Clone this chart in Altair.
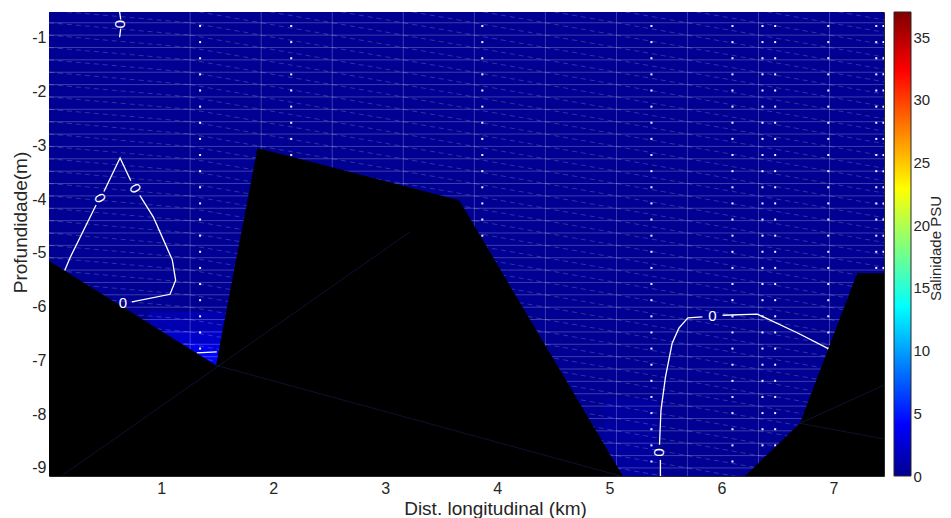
import altair as alt
import pandas as pd

# ---------------- data ----------------
X_DOMAIN = [0.0, 7.45]          # km
Z_DOMAIN = [-9.15, -0.52]       # m
SAL_DOMAIN = [0, 37]            # PSU (colorbar)

# jet colour map stops (salinity value -> colour)
jet_sal = [0, 4.11, 13.5, 22.9, 32.3, 37]
jet_colors = ["#00008F", "#0000FF", "#00FFFF", "#FFFF00", "#FF0000", "#800000"]

# salinity field (background and brighter patches)
patch_x1 = [0.0, 4.95, 0.90, 1.05, 1.20, 1.30]
patch_x2 = [7.45, 5.42, 1.60, 1.60, 1.60, 1.60]
patch_z1 = [-9.15, -9.15, -7.20, -7.20, -7.20, -7.20]
patch_z2 = [-0.52, -7.70, -6.10, -6.45, -6.70, -6.85]
patch_sal = [0.1, 0.6, 1.2, 2.2, 3.2, 4.3]

# model mesh lines
mesh_x = [1.259, 1.893, 2.527, 3.161, 3.795, 4.429, 5.063, 5.696, 6.330, 6.964]
mesh_x_edges = [0.0, 1.259, 1.893, 2.527, 3.161, 3.795, 4.429, 5.063, 5.696, 6.330, 6.964, 7.598]
mesh_z = [-0.49, -0.72, -0.95, -1.18, -1.41, -1.64, -1.87, -2.10, -2.33, -2.56, -2.79,
          -3.02, -3.25, -3.48, -3.71, -3.94, -4.17, -4.40, -4.63, -4.86, -5.09, -5.32,
          -5.55, -5.78, -6.01, -6.24, -6.47, -6.70, -6.93, -7.16, -7.39, -7.62, -7.85,
          -8.08, -8.31, -8.54, -8.77, -9.00, -9.23]

# sample points
sample_x = [1.348, 2.161, 3.866, 5.375, 6.098, 6.366, 6.479, 6.953, 7.381, 7.445]
sample_z = [-0.78, -1.08, -1.38, -1.68, -1.98, -2.28, -2.58, -2.88, -3.18, -3.48,
            -3.78, -4.08, -4.38, -4.68, -4.98, -5.28, -5.58, -5.88, -6.18, -6.48,
            -6.78, -7.08, -7.38, -7.68, -7.98, -8.28, -8.58, -8.88]

# bathymetry (top boundary of the black bottom)
bathy_id = ["a", "a", "a", "a", "a", "b", "b", "b", "b"]
bathy_x = [0.0, 1.49, 1.86, 3.66, 5.12, 6.21, 6.70, 7.21, 7.45]
bathy_z = [-5.15, -7.09, -3.05, -4.02, -9.15, -9.15, -8.17, -5.38, -5.38]

# faint mesh edges visible inside the bottom
faint_x1 = [0.125, 1.49, 6.70, 6.70]
faint_z1 = [-9.13, -7.09, -8.17, -8.17]
faint_x2 = [3.22, 5.10, 7.45, 7.45]
faint_z2 = [-4.61, -9.15, -7.46, -8.46]

# 0 PSU contour (segments broken at the labels)
cont_seg = [1, 1, 2, 2, 3, 3, 3, 4, 4, 4, 5, 5, 5, 5, 5, 5, 5, 6, 6, 7, 7,
            8, 8, 8, 8, 8, 8, 8, 9, 9, 9, 9]
cont_x = [0.630, 0.640, 0.640, 0.630,
          0.490, 0.634, 0.730,
          0.420, 0.190, 0.140,
          0.810, 0.930, 1.030, 1.100, 1.130, 1.080, 0.740,
          1.318, 1.497,
          5.455, 5.455,
          5.447, 5.460, 5.500, 5.560, 5.620, 5.700, 5.830,
          6.010, 6.320, 6.680, 6.970]
cont_z = [-0.52, -0.66, -0.83, -0.99,
          -3.86, -3.235, -3.66,
          -4.11, -5.08, -5.33,
          -3.93, -4.33, -4.80, -5.13, -5.51, -5.77, -5.91,
          -6.86, -6.84,
          -9.15, -8.85,
          -8.57, -7.93, -7.31, -6.68, -6.40, -6.21, -6.19,
          -6.16, -6.14, -6.49, -6.80]

lab_x = [0.634, 0.455, 0.768, 0.660, 5.440, 5.920]
lab_z = [-0.745, -3.98, -3.80, -5.93, -8.71, -6.17]
lab_ang = [90, 60, 60, 0, 90, 0]
lab_txt = ["0", "0", "0", "0", "0", "0"]

x_ticks = [1, 2, 3, 4, 5, 6, 7]
z_ticks = [-1, -2, -3, -4, -5, -6, -7, -8, -9]
sal_ticks = [0, 5, 10, 15, 20, 25, 30, 35]

# ---------------- tables ----------------
patch_df = pd.DataFrame({"x1": patch_x1, "x2": patch_x2, "z1": patch_z1,
                         "z2": patch_z2, "sal": patch_sal})
hline_df = pd.DataFrame({"z": mesh_z})
vline_df = pd.DataFrame({"x": mesh_x})
diag_rows = []
for i in range(len(mesh_x_edges) - 1):
    for k in range(len(mesh_z) - 1):
        diag_rows.append({"xa": mesh_x_edges[i], "za": mesh_z[k],
                          "xb": mesh_x_edges[i + 1], "zb": mesh_z[k + 1]})
diag_df = pd.DataFrame(diag_rows)
dots_df = pd.DataFrame([{"x": sx, "z": sz} for sx in sample_x for sz in sample_z])
bathy_df = pd.DataFrame({"poly": bathy_id, "x": bathy_x, "z": bathy_z,
                         "base": [Z_DOMAIN[0]] * len(bathy_x)})
faint_df = pd.DataFrame({"xa": faint_x1, "za": faint_z1, "xb": faint_x2, "zb": faint_z2})
cont_df = pd.DataFrame({"seg": cont_seg, "x": cont_x, "z": cont_z,
                        "i": list(range(len(cont_x)))})
lab_df = pd.DataFrame({"x": lab_x, "z": lab_z, "ang": lab_ang, "t": lab_txt})
cbar_df = pd.DataFrame({"lo": [SAL_DOMAIN[0]], "hi": [SAL_DOMAIN[1]]})

# ---------------- styling ----------------
FONT = "Liberation Sans"
TXT = "#262626"
XS = alt.Scale(domain=X_DOMAIN, nice=False, zero=False)
YS = alt.Scale(domain=Z_DOMAIN, nice=False, zero=False)
CS = alt.Scale(domain=jet_sal, range=jet_colors, interpolate="rgb")

x_axis = alt.Axis(values=x_ticks, title="Dist. longitudinal (km)", grid=False,
                  domain=False, ticks=False, tickSize=0, labelPadding=4,
                  labelFontSize=16, titleFontSize=19, titleFontWeight="normal",
                  labelFont=FONT, titleFont=FONT, labelColor=TXT, titleColor=TXT,
                  titleX=446, titleY=38, titleBaseline="alphabetic", titleAlign="center")
y_axis = alt.Axis(values=z_ticks, title="Profundidade(m)", grid=False,
                  domain=False, ticks=False, tickSize=0, labelPadding=3,
                  labelExpr="'-' + format(abs(datum.value), 'd')",
                  labelFontSize=16, titleFontSize=19, titleFontWeight="normal",
                  labelFont=FONT, titleFont=FONT, labelColor=TXT, titleColor=TXT,
                  titleX=-23, titleY=210, titleAngle=270, titleBaseline="alphabetic",
                  titleAlign="center")


def X(f):
    return alt.X(f, scale=XS, axis=x_axis)


def Y(f):
    return alt.Y(f, scale=YS, axis=y_axis)


bg = alt.Chart(patch_df).mark_rect().encode(
    x=X("x1:Q"), x2="x2:Q", y=Y("z1:Q"), y2="z2:Q",
    color=alt.Color("sal:Q", scale=CS, legend=None),
)
hlines = alt.Chart(hline_df).mark_rule(color="white", opacity=0.24, strokeWidth=1, clip=True).encode(
    y=Y("z:Q"))
vlines = alt.Chart(vline_df).mark_rule(color="white", opacity=0.24, strokeWidth=1, clip=True).encode(
    x=X("x:Q"))
diag = alt.Chart(diag_df).mark_rule(color="white", opacity=0.22, strokeWidth=0.9,
                                    strokeDash=[5, 4], clip=True).encode(
    x=X("xa:Q"), x2="xb:Q", y=Y("za:Q"), y2="zb:Q")
dots = alt.Chart(dots_df).mark_square(color="white", size=4, opacity=0.95, clip=True).encode(
    x=X("x:Q"), y=Y("z:Q"))
cont = alt.Chart(cont_df).mark_line(color="white", strokeWidth=1.3, clip=True).encode(
    x=X("x:Q"), y=Y("z:Q"), detail="seg:N", order="i:Q")
bathy = alt.Chart(bathy_df).mark_area(color="black", opacity=1, clip=True).encode(
    x=X("x:Q"), y=Y("z:Q"), y2="base:Q", detail="poly:N")
faint = alt.Chart(faint_df).mark_rule(color="#1c2f7a", opacity=0.4, strokeWidth=1, clip=True).encode(
    x=X("xa:Q"), x2="xb:Q", y=Y("za:Q"), y2="zb:Q")
labels = alt.Chart(lab_df).mark_text(color="white", font=FONT, fontSize=15,
                                     align="center", baseline="middle").encode(
    x=X("x:Q"), y=Y("z:Q"), angle=alt.Angle("ang:Q", scale=None), text="t:N")

main = alt.layer(bg, hlines, vlines, diag, dots, cont, bathy, faint, labels)

grad = alt.LinearGradient(
    gradient="linear",
    stops=[alt.GradientStop(color=c, offset=(s - jet_sal[0]) / (jet_sal[-1] - jet_sal[0]))
           for s, c in zip(jet_sal, jet_colors)],
    x1=0, x2=0, y1=1, y2=0)

cbar = alt.Chart(cbar_df).mark_rect(fill=grad, stroke="#262626", strokeWidth=1).encode(
    x=alt.value(845), x2=alt.value(862),
    y=alt.Y("lo:Q", scale=alt.Scale(domain=SAL_DOMAIN, nice=False, zero=False),
            axis=alt.Axis(orient="right", offset=27, values=sal_ticks, grid=False,
                          domain=False, ticks=False, tickSize=0, labelPadding=2,
                          labelFontSize=15, labelFont=FONT, labelColor=TXT,
                          title="Salinidade PSU", titleFontSize=15, titleFont=FONT,
                          titleFontWeight="normal", titleColor=TXT, titleAngle=270,
                          titleX=29, titleY=236, titleBaseline="alphabetic",
                          titleAlign="center")),
    y2="hi:Q",
)

chart = alt.layer(main, cbar).resolve_scale(y="independent").properties(
    width=835, height=464,
    padding={"left": 41, "top": 4, "right": 59, "bottom": 42},
    autosize=alt.AutoSizeParams(type="none"),
    background="white",
).configure_view(stroke="#262626", strokeWidth=1)

chart.save("out.html", embed_options={"renderer": "svg", "actions": False})
